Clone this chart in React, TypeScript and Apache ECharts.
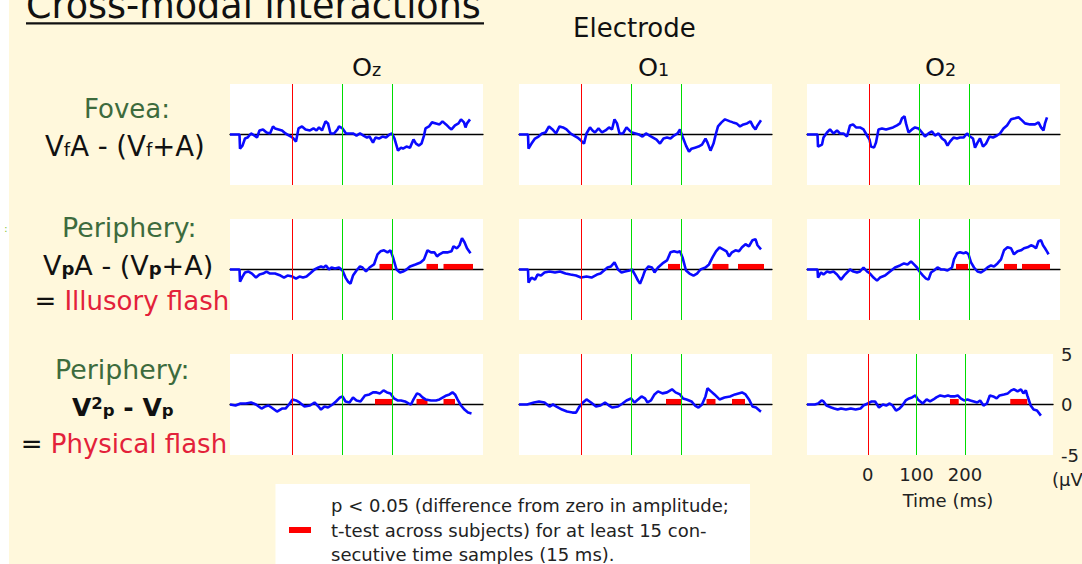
import React, { useEffect, useRef } from 'react';
import * as echarts from 'echarts';

const FONT = '"DejaVu Sans", Verdana, sans-serif';

// ---------- data ----------
const electrodes = ['z', '1', '2'];
const rowNames = ['fovea', 'illusory', 'physical'];
const timeMin = -125;
const timeMax = 381;
const ampMin = -5;
const ampMax = 5;
const markerTimes = [0, 100, 200];
const markerColors = ['#ff0000', '#00dd00', '#00dd00'];
const timeTicks = [0, 100, 200];
const ampTicks = [-5, 0, 5];
const sigHeight = 0.55;

const fovOz = [[-125,0],[-106,0],[-105,-1.4],[-100,-1.1],[-95,-0.4],[-90,-0.3],[-83,0.1],[-76,-0.1],[-71,-0.3],[-66,0.4],[-59,0.5],[-52,0.2],[-45,0.1],[-39,0.8],[-35,0.6],[-28,0.5],[-21,0.4],[-14,0.1],[-3,-0.2],[2,-0.4],[7,-0.7],[12,0.6],[19,0.8],[26,0.5],[35,0.4],[42,0.6],[48,0.4],[53,0.7],[59,0.4],[66,1.3],[71,1.1],[76,0.1],[83,0.1],[90,0.5],[93,0.8],[100,0.6],[107,0.1],[114,0.1],[121,0.1],[128,-0.1],[135,0.1],[142,-0.1],[149,-0.3],[154,-0.2],[161,-0.8],[166,-0.3],[173,-0.4],[180,-0.2],[187,-0.3],[194,0],[199,0.1],[204,-0.4],[211,-1.6],[217,-1.3],[221,-1.4],[228,-1.2],[235,-1.3],[242,-0.5],[247,-0.9],[253,-1.1],[258,-0.9],[263,-0.1],[266,0.6],[273,0.8],[279,1.2],[287,1.1],[294,1.0],[300,1.3],[307,1.0],[313,0.7],[318,0.5],[325,0.9],[332,1.1],[337,1.5],[343,1.2],[346,0.7],[349,1.1],[355,1.5]];
const fovO1 = [[-125,0],[-107,0],[-106,-1.4],[-100,-0.9],[-93,-0.4],[-86,-0.2],[-79,0.1],[-72,0.2],[-65,0.8],[-58,0.5],[-51,0.1],[-44,0.8],[-37,0.7],[-30,0.5],[-22,0.1],[-15,-0.1],[-8,-0.3],[-1,-0.6],[5,-0.9],[10,0.1],[17,0.7],[22,0.4],[27,0.2],[34,0.6],[41,0.2],[48,0.4],[55,0.7],[61,0.5],[66,1.5],[71,1.1],[76,0.1],[83,0.1],[90,0.7],[96,0.4],[101,0.2],[108,0.1],[115,0],[122,-0.2],[129,0.1],[136,-0.1],[143,-0.3],[150,-0.5],[157,-0.9],[164,-0.4],[171,-0.3],[178,-0.4],[185,-0.1],[192,0.1],[197,0.5],[202,-0.2],[209,-1.1],[215,-1.7],[220,-1.4],[227,-1.3],[234,-1.2],[241,-1.0],[248,-0.4],[252,-0.8],[258,-1.6],[264,-0.9],[269,0.1],[273,0.8],[280,1.2],[287,1.5],[297,1.3],[303,1.2],[310,1.1],[317,0.8],[324,1.0],[331,1.1],[338,1.3],[343,0.8],[348,0.5],[352,0.9],[359,1.4]];
const fovO2 = [[-125,0],[-104,0],[-103,-1.2],[-95,-1.0],[-92,-0.3],[-85,0.2],[-79,0.5],[-72,0.1],[-65,0.4],[-59,0.1],[-52,0.1],[-45,-0.2],[-39,0.9],[-33,1.0],[-27,0.7],[-19,0.7],[-12,0.5],[-5,-0.1],[0,-0.5],[3,-1.2],[9,-1.3],[13,-0.8],[18,0.5],[25,0.6],[33,0.5],[40,0.6],[47,0.7],[55,0.9],[61,1.1],[65,1.6],[70,1.8],[73,1.1],[78,0.2],[85,0.5],[91,0.7],[98,0.6],[105,0.2],[111,-0.2],[118,0.1],[125,0.3],[131,-0.1],[138,0.1],[145,-0.4],[151,-0.6],[156,-1.1],[161,-0.7],[168,-0.3],[175,-0.4],[181,-0.3],[188,-0.3],[195,0.1],[201,-0.2],[207,-0.4],[211,-1.3],[216,-0.8],[221,-0.4],[227,-1.2],[233,-0.9],[240,-0.2],[247,-0.3],[255,-0.1],[261,0.1],[268,0.6],[275,0.9],[283,1.5],[291,1.6],[298,1.7],[305,1.4],[311,1.1],[321,1.0],[331,1.0],[338,1.2],[343,0.7],[348,0.4],[351,1.1],[355,1.7]];

const illOz = [[-125,0],[-106,0],[-105,-1.2],[-100,-0.7],[-95,-0.3],[-88,-0.2],[-81,-0.4],[-73,-0.8],[-66,-0.5],[-59,-0.4],[-52,-0.2],[-45,-0.4],[-35,-0.4],[-24,-0.6],[-17,-0.8],[-10,-0.6],[0,-0.7],[7,-0.9],[14,-0.7],[21,-0.8],[28,-0.7],[35,-0.4],[44,0],[52,0.2],[57,0.3],[62,0.2],[67,0.4],[73,0],[78,0.2],[85,0.1],[93,0.2],[100,-0.1],[106,-0.8],[111,-1.2],[116,-1.4],[121,-0.6],[128,-0.1],[135,0.3],[140,0.2],[147,-0.2],[154,0.2],[163,0.5],[170,1.5],[176,1.8],[183,1.9],[190,1.7],[196,1.9],[201,1.2],[208,0],[215,-0.3],[221,-0.2],[228,0],[235,0.3],[246,0.5],[256,0.7],[263,1.0],[270,1.9],[277,1.7],[284,1.7],[289,1.3],[294,1.5],[301,1.7],[311,1.7],[318,1.8],[322,2.3],[329,2.1],[334,2.4],[339,3.1],[344,2.7],[349,2.1],[356,1.6]];
const illO1 = [[-125,0],[-107,0],[-106,-1.3],[-100,-0.8],[-93,-1.0],[-88,-0.5],[-81,-0.6],[-74,-0.3],[-64,-0.2],[-53,-0.3],[-43,-0.2],[-32,-0.4],[-22,-0.5],[-11,-0.6],[-1,-0.8],[10,-0.7],[20,-0.8],[31,-0.5],[38,-0.4],[45,-0.1],[52,0.2],[59,0.3],[66,0.7],[73,0],[80,-0.3],[87,-0.2],[96,-0.1],[101,0],[108,-0.6],[113,-1.1],[117,-1.4],[122,-0.8],[127,-0.1],[134,0.3],[141,0.2],[146,-0.3],[153,0.2],[162,0.6],[171,0.9],[178,1.7],[185,1.8],[192,1.7],[197,1.8],[202,1.2],[209,-0.1],[216,-0.4],[224,-0.6],[231,-0.4],[238,0],[248,0.2],[255,0.5],[262,1.2],[269,1.8],[276,2.2],[283,2.0],[290,1.8],[295,1.3],[301,1.7],[308,1.9],[315,1.8],[321,2.2],[328,2.5],[335,2.3],[342,2.9],[348,3.0],[352,2.4],[359,2.0]];
const illO2 = [[-125,0],[-104,0],[-103,-0.8],[-97,-0.3],[-92,-0.5],[-85,-0.2],[-79,-0.3],[-72,-0.2],[-65,-0.5],[-57,-1.0],[-49,-0.5],[-39,0],[-32,-0.2],[-25,-0.3],[-19,-0.2],[-12,0.2],[-5,-0.2],[1,-0.4],[8,-0.8],[15,-1.1],[21,-0.8],[31,-0.6],[41,-0.2],[51,0.2],[61,0.4],[69,0.6],[76,0.5],[83,0.8],[89,0.5],[95,0.2],[100,-0.2],[107,-0.6],[113,-0.9],[118,-1.0],[123,-0.3],[129,-0.1],[136,0.2],[143,0],[149,0],[156,-0.1],[165,0.2],[169,1.0],[175,1.6],[181,1.7],[188,1.6],[193,1.7],[198,1.5],[203,0.7],[209,0.2],[216,-0.2],[223,-0.3],[229,-0.1],[236,0.2],[243,0.4],[249,0.3],[256,0.6],[263,1.0],[269,1.9],[276,2.2],[283,2.1],[289,1.5],[296,1.8],[303,1.9],[309,2.1],[316,2.2],[323,2.4],[328,2.3],[333,2.1],[338,2.8],[343,2.9],[347,2.4],[351,2.1],[356,1.7],[358,1.5]];

const phyOz = [[-125,0],[-114,-0.1],[-104,0.1],[-93,0.1],[-83,0.2],[-73,0],[-62,-0.4],[-55,-0.2],[-48,-0.1],[-42,-0.3],[-31,-0.7],[-21,-0.4],[-14,-0.4],[-7,0],[0,0.5],[7,0.4],[14,0.2],[24,-0.2],[35,-0.1],[44,0.2],[52,-0.2],[57,-0.5],[64,-0.2],[71,-0.3],[80,0],[87,0.3],[95,0.7],[100,0.8],[106,0.3],[114,0.2],[121,0.7],[128,0.4],[136,0.3],[145,0.9],[154,1.0],[161,1.2],[168,1.2],[175,1.1],[182,1.4],[189,1.2],[196,1.1],[203,0.6],[210,0.4],[217,0.4],[225,0.3],[232,0.1],[237,0],[242,0.5],[249,1.1],[254,1.0],[260,0.7],[266,0.5],[277,0.4],[287,0.4],[294,0.5],[301,0.7],[308,0.9],[314,1.0],[320,1.2],[325,1.0],[330,0.5],[337,-0.1],[344,-0.5],[351,-0.8],[358,-0.9]];
const phyO1 = [[-125,0],[-109,0],[-95,0.2],[-85,0.3],[-74,0.2],[-64,-0.2],[-57,0],[-50,-0.2],[-39,-0.5],[-29,-0.7],[-18,-0.8],[-11,-0.8],[-4,-0.2],[3,0.2],[10,0.5],[19,0.2],[29,-0.2],[38,-0.1],[47,0.2],[55,-0.1],[62,-0.3],[73,-0.2],[82,0.1],[90,0.4],[99,0.6],[106,0.2],[113,0.5],[120,0.8],[127,0.6],[132,0.2],[139,0.4],[146,1.0],[153,1.3],[162,1.1],[171,1.2],[181,1.5],[188,1.2],[197,1.0],[203,0.6],[210,0.5],[220,0.3],[227,-0.1],[234,-0.3],[241,0],[248,0.8],[252,1.6],[259,1.3],[266,1.0],[276,0.5],[286,0.7],[297,0.8],[307,1.0],[314,1.1],[321,1.2],[328,1.0],[335,0.5],[342,-0.2],[349,-0.3],[356,-0.6],[359,-0.7]];
const phyO2 = [[-125,0],[-109,0],[-102,0.1],[-95,0.4],[-91,0.3],[-85,-0.1],[-75,-0.3],[-69,-0.4],[-62,-0.5],[-55,-0.4],[-45,-0.5],[-35,-0.4],[-25,-0.5],[-15,-0.4],[-9,-0.1],[0,0.1],[8,0.3],[15,0.3],[23,-0.3],[31,0],[38,-0.1],[45,0.1],[51,-0.1],[58,-0.6],[65,-0.4],[71,-0.1],[78,0.4],[85,0.6],[91,0.7],[98,0.9],[103,0.5],[108,0.3],[113,0.1],[121,0.5],[128,0.3],[135,0.5],[141,0.7],[149,0.9],[158,0.8],[165,0.9],[171,0.8],[178,0.8],[185,0.9],[191,0.6],[198,0.4],[205,0.5],[211,0.4],[218,0.3],[225,0.2],[231,0.4],[238,-0.1],[245,0.1],[251,0.9],[258,0.8],[265,0.6],[271,0.9],[280,1.0],[288,1.1],[295,1.4],[301,1.5],[308,1.3],[315,1.5],[320,1.1],[325,1.4],[328,0.9],[335,-0.1],[341,-0.5],[348,-0.6],[356,-1.1]];

const sigFovOz: number[][] = [];
const sigFovO1: number[][] = [];
const sigFovO2: number[][] = [];
const sigIllOz = [[174,199],[268,291],[302,361]];
const sigIllO1 = [[173,197],[262,294],[313,365]];
const sigIllO2 = [[173,197],[269,295],[305,361]];
const sigPhyOz = [[165,199],[248,270],[302,325]];
const sigPhyO1 = [[169,199],[250,268],[301,327]];
const sigPhyO2 = [[169,187],[293,328]];

const curves = [fovOz, fovO1, fovO2, illOz, illO1, illO2, phyOz, phyO1, phyO2];
const sigs = [sigFovOz, sigFovO1, sigFovO2, sigIllOz, sigIllO1, sigIllO2, sigPhyOz, sigPhyO1, sigPhyO2];

const legendLines = [
  'p < 0.05 (difference from zero in amplitude;',
  't-test across subjects) for at least 15 con-',
  'secutive time samples (15 ms).',
];

// ---------- layout ----------
const colLeft = [230, 519, 807];
const rowTop = [84, 219, 354];
const panelW = 253;
const panelH = 101;

const GREEN = '#3d6b3d';
const RED = '#e3213a';
const BLACK = '#111111';

type Run = { t: string; size: number; color?: string; weight?: string; dy?: number };

function App() {
  const ref = useRef<HTMLDivElement>(null);

  useEffect(() => {
    if (!ref.current) return;
    const chart = echarts.init(ref.current, undefined, { renderer: 'svg' });
    const ctx = document.createElement('canvas').getContext('2d')!;
    const measure = (t: string, size: number, weight = 'normal') => {
      ctx.font = `${weight} ${size}px ${FONT}`;
      return ctx.measureText(t).width;
    };
    const runs = (items: Run[], x: number, baseline: number): any[] => {
      const out: any[] = [];
      let cx = x;
      for (const r of items) {
        const w = r.weight || 'normal';
        out.push({
          type: 'text',
          x: cx,
          y: baseline + (r.dy || 0) - 0.346 * r.size,
          silent: true,
          style: {
            text: r.t,
            fontSize: r.size,
            fontFamily: FONT,
            fontWeight: w,
            fill: r.color || BLACK,
            align: 'left',
            verticalAlign: 'middle',
          },
        });
        cx += measure(r.t, r.size, w);
      }
      return out;
    };

    const grids: any[] = [];
    const xAxes: any[] = [];
    const yAxes: any[] = [];
    const series: any[] = [];
    for (let r = 0; r < 3; r++) {
      for (let c = 0; c < 3; c++) {
        const i = r * 3 + c;
        grids.push({
          left: colLeft[c], top: rowTop[r], width: panelW, height: panelH,
          show: true, backgroundColor: '#ffffff', borderWidth: 0, containLabel: false,
        });
        xAxes.push({
          type: 'value', gridIndex: i, min: timeMin, max: timeMax,
          axisLine: { show: true, onZero: true, onZeroAxisIndex: i, lineStyle: { color: '#000', width: 1.3 } },
          axisTick: { show: false }, axisLabel: { show: false }, splitLine: { show: false },
        });
        yAxes.push({
          type: 'value', gridIndex: i, min: ampMin, max: ampMax,
          axisLine: { show: false }, axisTick: { show: false }, axisLabel: { show: false }, splitLine: { show: false },
        });
        series.push({
          type: 'line', name: `${rowNames[r]}-O${electrodes[c]}`,
          xAxisIndex: i, yAxisIndex: i, data: curves[i], showSymbol: false, symbol: 'none',
          lineStyle: { color: '#0a0aff', width: 2.6 }, z: 3, silent: true,
          markLine: {
            silent: true, symbol: 'none', label: { show: false }, animation: false,
            data: markerTimes.map((t, k) => ({ xAxis: t, lineStyle: { color: markerColors[k], width: 1, type: 'solid' } })),
          },
          markArea: {
            silent: true, label: { show: false },
            itemStyle: { color: '#ff0000', opacity: 1 },
            data: sigs[i].map(([a, b]) => [{ coord: [a, 0] }, { coord: [b, sigHeight] }]),
          },
        });
      }
    }
    // axis labels for bottom-right panel
    xAxes.push({
      type: 'value', gridIndex: 8, min: timeMin, max: timeMax, position: 'bottom',
      axisLine: { show: false, onZero: false }, axisTick: { show: false }, splitLine: { show: false },
      axisLabel: { show: true, customValues: timeTicks, margin: 10, fontSize: 18, color: '#222', fontFamily: FONT },
    });
    yAxes.push({
      type: 'value', gridIndex: 8, min: ampMin, max: ampMax, position: 'right',
      axisLine: { show: false }, axisTick: { show: false }, splitLine: { show: false },
      axisLabel: { show: true, customValues: ampTicks, margin: 8, fontSize: 18, color: '#222', fontFamily: FONT, showMinLabel: true, showMaxLabel: true },
    });

    const graphics: any[] = [
      { type: 'rect', shape: { x: 0, y: 0, width: 9, height: 564 }, style: { fill: '#ffffff' }, silent: true, z: -1 },
      ...runs([{ t: 'Cross-modal interactions', size: 36.5 }], 26, 18.3),
      { type: 'rect', shape: { x: 26, y: 22.2, width: 458, height: 2.3 }, style: { fill: BLACK }, silent: true },
      ...runs([{ t: 'Electrode', size: 26 }], 573, 36.7),
      ...runs([{ t: 'O', size: 25.5 }, { t: 'z', size: 17.5 }], 352, 76),
      ...runs([{ t: 'O', size: 25.5 }, { t: '1', size: 17.5 }], 638, 76),
      ...runs([{ t: 'O', size: 25.5 }, { t: '2', size: 17.5 }], 925, 76),
      ...runs([{ t: ':', size: 11, color: '#8cc63f' }], 4, 232),
      // row 1
      ...runs([{ t: 'Fovea:', size: 26, color: GREEN }], 84, 118),
      ...runs([
        { t: 'V', size: 27.5 }, { t: 'f', size: 18 }, { t: 'A - (V', size: 27.5 }, { t: 'f', size: 18 }, { t: '+A)', size: 27.5 },
      ], 45, 156),
      // row 2
      ...runs([{ t: 'Periphery:', size: 26.8, color: GREEN }], 62, 236.5),
      ...runs([
        { t: 'V', size: 27 }, { t: 'p', size: 18, weight: 'bold' }, { t: 'A - (V', size: 27 }, { t: 'p', size: 18, weight: 'bold' }, { t: '+A)', size: 27 },
      ], 43, 275),
      ...runs([{ t: '= ', size: 26 }, { t: 'Illusory flash', size: 26, color: RED }], 34.4, 310),
      // row 3
      ...runs([{ t: 'Periphery:', size: 26.8, color: GREEN }], 55, 378.3),
      ...runs([
        { t: 'V', size: 25, weight: 'bold' }, { t: '2', size: 16.5, weight: 'bold', dy: -7 }, { t: 'p', size: 16.5, weight: 'bold' },
        { t: ' - V', size: 25, weight: 'bold' }, { t: 'p', size: 16.5, weight: 'bold' },
      ], 72, 416),
      ...runs([{ t: '= ', size: 26 }, { t: 'Physical flash', size: 26, color: RED }], 20.7, 453.3),
      // axis captions
      {
        type: 'text', x: 948, y: 500, silent: true,
        style: { text: 'Time (ms)', fontSize: 18, fontFamily: FONT, fill: '#222', align: 'center', verticalAlign: 'middle' },
      },
      {
        type: 'text', x: 1052, y: 479, silent: true,
        style: { text: '(µV)', fontSize: 18, fontFamily: FONT, fill: '#222', align: 'left', verticalAlign: 'middle' },
      },
      // legend box
      { type: 'rect', shape: { x: 275.5, y: 484, width: 474.5, height: 80 }, style: { fill: '#ffffff' }, silent: true },
      { type: 'rect', shape: { x: 289, y: 527, width: 22, height: 6 }, style: { fill: '#ff0000' }, silent: true },
      ...legendLines.map((t, k) => ({
        type: 'text', x: 331, y: 505.5 + k * 24.6, silent: true,
        style: { text: t, fontSize: 18, fontFamily: FONT, fill: '#222', align: 'left', verticalAlign: 'middle' },
      })),
    ];

    chart.setOption({
      animation: false,
      backgroundColor: '#fff8dc',
      grid: grids,
      xAxis: xAxes,
      yAxis: yAxes,
      series,
      graphic: { elements: graphics },
    });
    return () => chart.dispose();
  }, []);

  return <div ref={ref} style={{ position: 'fixed', left: 0, top: 0, width: 1082, height: 564 }} />;
}

export default App;
